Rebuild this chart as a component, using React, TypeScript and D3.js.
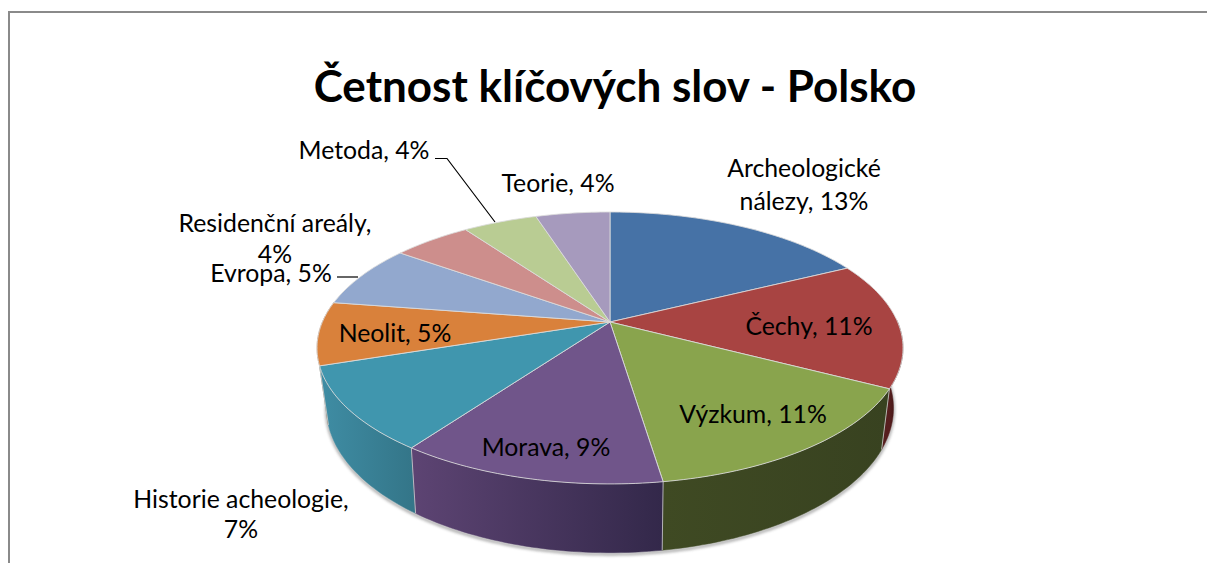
import React from "react";
import * as d3 from "d3";

const categories = ["Archeologické nálezy", "Čechy", "Výzkum", "Morava", "Historie acheologie", "Neolit", "Evropa", "Residenční areály", "Metoda", "Teorie"];
// slice sizes (the printed percents are rounded)
const sliceValues = [12.9, 11, 10.9, 9, 7.3, 5.5, 5.5, 3.8, 3.6, 3.6];
const topColors = ["#4672a6", "#a84442", "#89a44d", "#70558a", "#4096ae", "#d9813b", "#92a8ce", "#cd8e8c", "#b9cc93", "#a69abd"];
const wallFrom = ["#2d4a6e", "#561e1e", "#3f4a23", "#5d4473", "#3f8da4", "#a86330", "#6a7a99", "#96686a", "#87956b", "#7a7089"];
const wallTo = ["#2d4a6e", "#3f1515", "#384220", "#33284a", "#347689", "#a86330", "#6a7a99", "#96686a", "#87956b", "#7a7089"];
const titleText = "Četnost klíčových slov - Polsko";

const labelLines = [
  ["Archeologické", "nálezy, 13%"],
  ["Čechy, 11%"],
  ["Výzkum, 11%"],
  ["Morava, 9%"],
  ["Historie acheologie,", "7%"],
  ["Neolit, 5%"],
  ["Evropa, 5%"],
  ["Residenční areály,", "4%"],
  ["Metoda, 4%"],
  ["Teorie, 4%"],
];
const labelX = [804, 809, 753, 546, 241, 395, 271, 275, 364, 558];
const labelY = [177, 335, 423, 456, 508, 342, 282, 232, 159, 192];
const labelGap = [33, 0, 0, 0, 30, 0, 0, 31, 0, 0];

const FONT = "Lato, Carlito, Calibri, sans-serif";
const W = 1207, H = 563;

type Disc = { cx: number; cy: number; d: number; a: number; c: number };
const topDisc: Disc = { cx: 610, cy: 322, d: 287.6, a: 131, c: 0.191 };
const lowDisc: Disc = { cx: 610, cy: 378.4, d: 277.4, a: 138.4, c: 0.206 };

// perspective projection of the unit disc; angle is clockwise from 12 o'clock
const project = (q: Disc, t: number): [number, number] => {
  const u = Math.sin(t), v = Math.cos(t);
  const w = 1 + q.c * v;
  return [q.cx + (q.d * u) / w, q.cy - (q.a * v) / w];
};
const arcPts = (q: Disc, t0: number, t1: number) => {
  const n = Math.max(2, Math.ceil(Math.abs(t1 - t0) / 0.02));
  return d3.range(n + 1).map((i) => project(q, t0 + ((t1 - t0) * i) / n));
};
const line = d3.line<[number, number]>().x((p) => p[0]).y((p) => p[1]);

const pieGen = d3.pie<number>().sort(null).value((d) => d);
const arcs = pieGen(sliceValues);

const FRONT_FROM = Math.PI * 0.5 - 0.02;
const FRONT_TO = Math.PI * 1.55;

export default function App() {
  const walls = arcs
    .map((a, i) => ({ i, t0: Math.max(a.startAngle, FRONT_FROM), t1: Math.min(a.endAngle, FRONT_TO) }))
    .filter((s) => s.t1 > s.t0);
  // paint far walls first: outer ones toward the nearest point of the rim
  const wallOrder = [...walls].sort(
    (p, q) => Math.abs((q.t0 + q.t1) / 2 - Math.PI) - Math.abs((p.t0 + p.t1) / 2 - Math.PI)
  );
  const shadowPath = line(arcPts(lowDisc, FRONT_FROM, FRONT_TO))!;
  return (
    <svg width={W} height={H} viewBox={`0 0 ${W} ${H}`} style={{ position: "fixed", left: 0, top: 0, display: "block", background: "#fff" }}>
      <defs>
        <filter id="sh" x="-10%" y="-10%" width="120%" height="130%">
          <feGaussianBlur stdDeviation="1.4" />
        </filter>
        {walls.map((s) => {
          const x0 = Math.min(project(topDisc, s.t0)[0], project(topDisc, s.t1)[0]);
          const x1 = Math.max(project(topDisc, s.t0)[0], project(topDisc, s.t1)[0]);
          return (
            <linearGradient key={s.i} id={`w${s.i}`} gradientUnits="userSpaceOnUse" x1={x0} x2={x1} y1={0} y2={0}>
              <stop offset="0" stopColor={wallFrom[s.i]} />
              <stop offset="1" stopColor={wallTo[s.i]} />
            </linearGradient>
          );
        })}
      </defs>
      <rect x={9} y={12} width={W + 20} height={H + 20} fill="#fff" stroke="#8a8a8a" strokeWidth={2} />
      <text x={615} y={102} textAnchor="middle" fontFamily={FONT} fontWeight={700} fontSize={44} fill="#000">{titleText}</text>

      <path d={shadowPath} fill="none" stroke="#777" strokeWidth={2.5} transform="translate(0,1.5)" filter="url(#sh)" opacity={0.7} />

      {wallOrder.map((s) => {
        const top = arcPts(topDisc, s.t0, s.t1);
        const low = arcPts(lowDisc, s.t0, s.t1).reverse();
        return <path key={s.i} d={line([...top, ...low])! + "Z"} fill={`url(#w${s.i})`} stroke={`url(#w${s.i})`} strokeWidth={0.5} />;
      })}
      {walls.slice(1).map((s) => {
        const a = project(topDisc, s.t0), b = project(lowDisc, s.t0);
        return <line key={s.i} x1={a[0]} y1={a[1]} x2={b[0]} y2={b[1]} stroke="#cfcfcf" strokeOpacity={0.8} strokeWidth={1} />;
      })}

      {arcs.map((a, i) => {
        const pts: [number, number][] = [[topDisc.cx, topDisc.cy], ...arcPts(topDisc, a.startAngle, a.endAngle)];
        return <path key={categories[i]} d={line(pts)! + "Z"} fill={topColors[i]} stroke="#dcdcdc" strokeOpacity={0.85} strokeWidth={1} strokeLinejoin="round" />;
      })}

      <path d="M435,158.5 H447 L495,222" fill="none" stroke="#000" strokeWidth={1.2} />
      <path d="M337,277 H358" fill="none" stroke="#000" strokeWidth={1.2} />

      {labelLines.map((ls, i) => (
        <text key={i} textAnchor="middle" fontFamily={FONT} fontSize={24.8} fill="#000">
          {ls.map((l, j) => (
            <tspan key={j} x={labelX[i]} y={labelY[i] + j * labelGap[i]}>{l}</tspan>
          ))}
        </text>
      ))}
    </svg>
  );
}
